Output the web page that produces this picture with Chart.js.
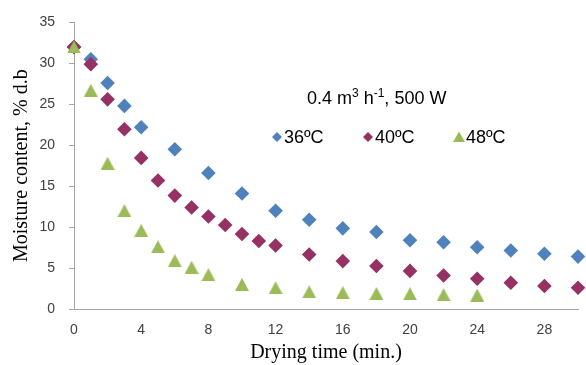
<!DOCTYPE html>
<html>
<head>
<meta charset="utf-8">
<script src="https://cdn.jsdelivr.net/npm/chart.js@4/dist/chart.umd.min.js"></script>
<style>
html,body{margin:0;padding:0;background:#fff;}
#wrap{width:586px;height:365px;position:relative;}
</style>
</head>
<body>
<div id="wrap"><canvas id="c" width="586" height="365"></canvas></div>
<script>
// ---- data ----
const seriesNames = ['36ºC', '40ºC', '48ºC'];
const time36 = [0,1,2,3,4,6,8,10,12,14,16,18,20,22,24,26,28,30];
const moist36 = [32.0,30.5,27.6,24.8,22.2,19.5,16.6,14.1,12.0,10.9,9.85,9.4,8.4,8.15,7.55,7.15,6.75,6.4];
const time40 = [0,1,2,3,4,5,6,7,8,9,10,11,12,14,16,18,20,22,24,26,28,30];
const moist40 = [32.0,29.9,25.6,21.95,18.45,15.7,13.85,12.4,11.3,10.25,9.15,8.3,7.75,6.65,5.85,5.25,4.65,4.1,3.7,3.2,2.8,2.6];
const time48 = [0,1,2,3,4,5,6,7,8,10,12,14,16,18,20,22,24];
const moist48 = [32.0,26.7,17.8,12.0,9.6,7.6,5.9,5.1,4.2,3.0,2.6,2.1,2.0,1.9,1.85,1.75,1.7];
const xTicks = [0,4,8,12,16,20,24,28];
const yTicks = [0,5,10,15,20,25,30,35];
const annotation = ['0.4 m', '3', ' h', '-1', ', 500 W'];

const colors = ['#4F81BD', '#953163', '#9BBB59'];

function triCanvas(w, h, color) {
  const cv = document.createElement('canvas');
  cv.width = w; cv.height = h;
  const g = cv.getContext('2d');
  g.fillStyle = color;
  g.beginPath();
  g.moveTo(w / 2, 0);
  g.lineTo(w, h);
  g.lineTo(0, h);
  g.closePath();
  g.fill();
  return cv;
}
const triBig = triCanvas(14, 13, colors[2]);

function pts(xs, ys) { return xs.map((x, i) => ({x: x, y: ys[i]})); }

const overlay = {
  id: 'overlay',
  afterDraw(chart) {
    const ctx = chart.ctx;
    ctx.save();
    ctx.fillStyle = '#000';
    ctx.textBaseline = 'alphabetic';
    // annotation text with superscripts
    let x = 307, base = 104;
    const big = '18px "Liberation Sans", Arial, sans-serif';
    const small = '12px "Liberation Sans", Arial, sans-serif';
    annotation.forEach((s, i) => {
      const sup = (i === 1 || i === 3);
      ctx.font = sup ? small : big;
      ctx.fillText(s, x, sup ? base - 7 : base);
      x += ctx.measureText(s).width;
    });
    // legend
    ctx.font = big;
    const legX = [277, 368, 459];
    const ly = 137;
    seriesNames.forEach((name, i) => {
      ctx.fillStyle = colors[i];
      const cx = legX[i];
      ctx.beginPath();
      if (i < 2) {
        ctx.moveTo(cx, ly - 5); ctx.lineTo(cx + 5, ly); ctx.lineTo(cx, ly + 5); ctx.lineTo(cx - 5, ly);
      } else {
        ctx.moveTo(cx, ly - 5.5); ctx.lineTo(cx + 6, ly + 5); ctx.lineTo(cx - 6, ly + 5);
      }
      ctx.closePath();
      ctx.fill();
      ctx.fillStyle = '#000';
      ctx.fillText(name, cx + 7, 143);
    });
    ctx.restore();
  }
};

new Chart(document.getElementById('c'), {
  type: 'scatter',
  data: {
    datasets: [
      {label: seriesNames[0], data: pts(time36, moist36), backgroundColor: colors[0], borderColor: colors[0],
       pointStyle: 'rectRot', pointRadius: 7.3, pointBorderWidth: 0, order: 3, clip: false},
      {label: seriesNames[1], data: pts(time40, moist40), backgroundColor: colors[1], borderColor: colors[1],
       pointStyle: 'rectRot', pointRadius: 7.3, pointBorderWidth: 0, order: 2, clip: false},
      {label: seriesNames[2], data: pts(time48, moist48), backgroundColor: colors[2], borderColor: colors[2],
       pointStyle: triBig, pointRadius: 7, pointBorderWidth: 0, order: 1, clip: false}
    ]
  },
  options: {
    responsive: false,
    animation: false,
    devicePixelRatio: 1,
    layout: {padding: {top: 21, right: 8, left: 0, bottom: 0}},
    plugins: {legend: {display: false}, tooltip: {enabled: false}},
    scales: {
      x: {
        type: 'linear', min: 0, max: 30,
        afterBuildTicks(s) { s.ticks = xTicks.map(v => ({value: v})); },
        afterFit(s) { s.height = 56; },
        border: {display: true, color: '#A6A6A6', width: 1},
        grid: {display: true, drawOnChartArea: false, drawTicks: false},
        ticks: {color: '#404040', padding: 13, maxRotation: 0, autoSkip: false,
                font: {family: '"Liberation Sans", Arial, sans-serif', size: 14}},
        title: {display: true, text: 'Drying time (min.)', color: '#000',
                font: {family: '"Liberation Serif", "Times New Roman", serif', size: 20},
                padding: {top: 0, bottom: 0}}
      },
      y: {
        type: 'linear', min: 0, max: 35,
        afterBuildTicks(s) { s.ticks = yTicks.map(v => ({value: v})); },
        afterFit(s) { s.width = 74; },
        border: {display: true, color: '#A6A6A6', width: 1},
        grid: {display: true, drawOnChartArea: false, drawTicks: true, tickLength: 5, color: '#A6A6A6'},
        ticks: {color: '#404040', padding: 14,
                font: {family: '"Liberation Sans", Arial, sans-serif', size: 14}},
        title: {display: true, text: 'Moisture content, % d.b', color: '#000',
                font: {family: '"Liberation Serif", "Times New Roman", serif', size: 20},
                padding: {top: 10, bottom: 0}}
      }
    }
  },
  plugins: [overlay]
});
</script>
</body>
</html>
